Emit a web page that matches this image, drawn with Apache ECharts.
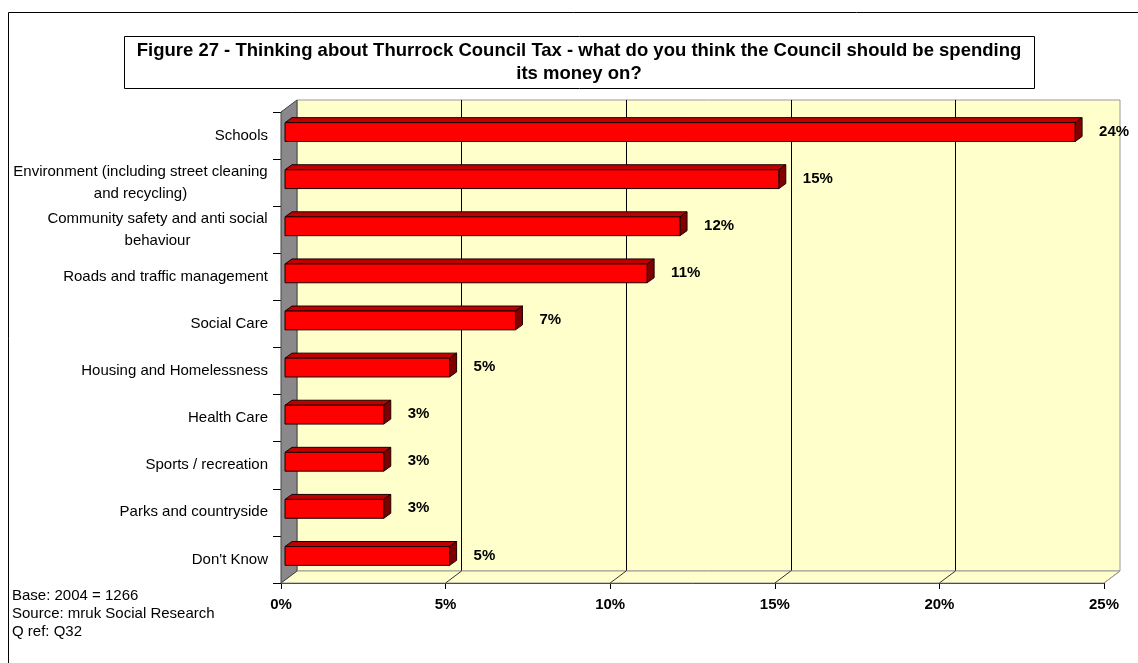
<!DOCTYPE html>
<html>
<head>
<meta charset="utf-8">
<script src="https://cdn.jsdelivr.net/npm/echarts@6/dist/echarts.min.js"></script>
<style>
  html, body { margin: 0; padding: 0; background: #fff; }
  #chart { width: 1138px; height: 663px; }
</style>
</head>
<body>
<div id="chart"></div>
<script>
// ---- data ----
const categories = [
  'Schools',
  'Environment (including street cleaning\nand recycling)',
  'Community safety and anti social\nbehaviour',
  'Roads and traffic management',
  'Social Care',
  'Housing and Homelessness',
  'Health Care',
  'Sports / recreation',
  'Parks and countryside',
  "Don't Know"
];
const shares = [24, 15, 12, 11, 7, 5, 3, 3, 3, 5];
const axisTicks = [0, 5, 10, 15, 20, 25];
const titleText = 'Figure 27 - Thinking about Thurrock Council Tax - what do you think the Council should be spending\nits money on?';
const notes = ['Base: 2004 = 1266', 'Source: mruk Social Research', 'Q ref: Q32'];

// ---- look ----
const FONT = '"Liberation Sans", Arial, Helvetica, sans-serif';
const WALL = { dx: 16, dy: -12 };          // depth of the 3D box
const BAR_SHIFT = { dx: 4, dy: -3.5 };     // front face of bars sits a little inside the box
const BAR_DEPTH = { dx: 7, dy: -5 };
const YELLOW = '#FFFFCC';

// widths for centred two-line category labels
const measure = document.createElement('canvas').getContext('2d');
measure.font = '15px ' + FONT;
const rich = {};
categories.forEach((c, i) => {
  const lines = c.split('\n');
  if (lines.length > 1) {
    const w = Math.max(...lines.map(l => measure.measureText(l).width));
    rich['b' + i] = { width: Math.ceil(w), align: 'center', fontSize: 15, fontFamily: FONT, color: '#000', lineHeight: 22 };
  }
});

const chart = echarts.init(document.getElementById('chart'), null, { renderer: 'canvas' });

const frontGrid = { left: 281, top: 112, width: 823, height: 471 };
const backGrid = {
  left: frontGrid.left + WALL.dx, top: frontGrid.top + WALL.dy,
  width: frontGrid.width, height: frontGrid.height
};

chart.setOption({
  animation: false,
  backgroundColor: '#fff',
  grid: [
    Object.assign({}, frontGrid, { containLabel: false }),
    Object.assign({}, backGrid, { show: true, backgroundColor: YELLOW, borderColor: '#999', borderWidth: 1, z: 0 })
  ],
  xAxis: [
    {
      gridIndex: 0, type: 'value', min: axisTicks[0], max: axisTicks[axisTicks.length - 1], interval: 5,
      axisLine: { show: true, lineStyle: { color: '#000', width: 1 } },
      axisTick: { show: true, length: 6, lineStyle: { color: '#000' } },
      splitLine: { show: false },
      axisLabel: {
        formatter: '{value}%', margin: 14, color: '#000',
        fontFamily: FONT, fontSize: 15, fontWeight: 'bold'
      }
    },
    {
      gridIndex: 1, type: 'value', min: axisTicks[0], max: axisTicks[axisTicks.length - 1], interval: 5,
      axisLine: { show: false }, axisTick: { show: false }, axisLabel: { show: false },
      splitLine: { show: true, showMinLine: false, showMaxLine: false, lineStyle: { color: '#000', width: 1 } }
    }
  ],
  yAxis: [
    {
      gridIndex: 0, type: 'category', data: categories, inverse: true,
      axisLine: { show: true, lineStyle: { color: '#000', width: 1 } },
      axisTick: { show: true, length: 8, lineStyle: { color: '#000' } },
      axisLabel: {
        margin: 13, color: '#000', fontFamily: FONT, fontSize: 15, lineHeight: 22, align: 'right',
        formatter: (val, idx) => {
          const lines = val.split('\n');
          if (lines.length === 1) return val;
          return lines.map(l => '{b' + idx + '|' + l + '}').join('\n');
        },
        rich: rich
      }
    },
    {
      gridIndex: 1, type: 'category', data: categories, inverse: true, show: false
    }
  ],
  series: [
    {
      // floor, left side wall and floor tick lines of the 3D box
      type: 'custom', name: 'frame', xAxisIndex: 0, yAxisIndex: 0, z: 1, silent: true,
      data: [[0, 0]],
      renderItem: (params, api) => {
        const cs = params.coordSys;
        const L = cs.x, T = cs.y, R = cs.x + cs.width, B = cs.y + cs.height;
        const dx = WALL.dx, dy = WALL.dy;
        const children = [
          {
            type: 'polygon',
            shape: { points: [[L, B], [R, B], [R + dx, B + dy], [L + dx, B + dy]] },
            style: { fill: YELLOW, stroke: '#999', lineWidth: 1 }
          },
          {
            type: 'polygon',
            shape: { points: [[L, T], [L + dx, T + dy], [L + dx, B + dy], [L, B]] },
            style: { fill: '#8a888a', stroke: '#444', lineWidth: 1 }
          }
        ];
        axisTicks.forEach((t, i) => {
          const x = api.coord([t, 0])[0];
          if (i === 0) return;
          children.push({
            type: 'line',
            shape: { x1: x, y1: B, x2: x + dx, y2: B + dy },
            style: { stroke: i === axisTicks.length - 1 ? '#999' : '#333', lineWidth: 1 }
          });
        });
        return { type: 'group', children };
      }
    },
    {
      type: 'custom', name: 'share', xAxisIndex: 0, yAxisIndex: 0, z: 3,
      data: shares.map((v, i) => [v, i]),
      encode: { x: 0, y: 1 },
      renderItem: (params, api) => {
        const v = api.value(0), idx = api.value(1);
        const start = api.coord([0, idx]);
        const end = api.coord([v, idx]);
        const band = api.size([0, 1])[1];
        const half = band * 0.2;
        const x0 = start[0] + BAR_SHIFT.dx, x1 = end[0] + BAR_SHIFT.dx;
        const yc = start[1] + BAR_SHIFT.dy;
        const yt = yc - half, yb = yc + half;
        const bx = BAR_DEPTH.dx, by = BAR_DEPTH.dy;
        const edge = { stroke: '#1a0000', lineWidth: 1 };
        return {
          type: 'group',
          children: [
            { type: 'polygon', shape: { points: [[x0, yt], [x0 + bx, yt + by], [x1 + bx, yt + by], [x1, yt]] },
              style: Object.assign({ fill: '#C00000' }, edge) },
            { type: 'polygon', shape: { points: [[x1, yt], [x1 + bx, yt + by], [x1 + bx, yb + by], [x1, yb]] },
              style: Object.assign({ fill: '#800000' }, edge) },
            { type: 'rect', shape: { x: x0, y: yt, width: x1 - x0, height: yb - yt },
              style: Object.assign({ fill: '#FF0000' }, edge) },
            { type: 'text', x: x1 + bx + 17, y: yc - 0.5,
              style: { text: v + '%', font: 'bold 15px ' + FONT, fill: '#000', align: 'left', verticalAlign: 'middle' } }
          ]
        };
      }
    }
  ],
  graphic: [
    { type: 'rect', z: 100, silent: true,
      shape: { x: 8.5, y: 12.5, width: 1200, height: 700 },
      style: { fill: 'none', stroke: '#000', lineWidth: 1 } },
    { type: 'rect', z: 100, silent: true,
      shape: { x: 124.5, y: 36.5, width: 910, height: 52 },
      style: { fill: '#fff', stroke: '#000', lineWidth: 1 } },
    { type: 'text', z: 101, silent: true, x: 579, y: 62,
      style: { text: titleText, font: 'bold 18.5px ' + FONT, fill: '#000', align: 'center', verticalAlign: 'middle', lineHeight: 23 } },
    { type: 'text', z: 101, silent: true, x: 12, y: 614,
      style: { text: notes.join('\n'), font: '15px ' + FONT, fill: '#000', align: 'left', verticalAlign: 'middle', lineHeight: 18 } }
  ]
});
</script>
</body>
</html>
